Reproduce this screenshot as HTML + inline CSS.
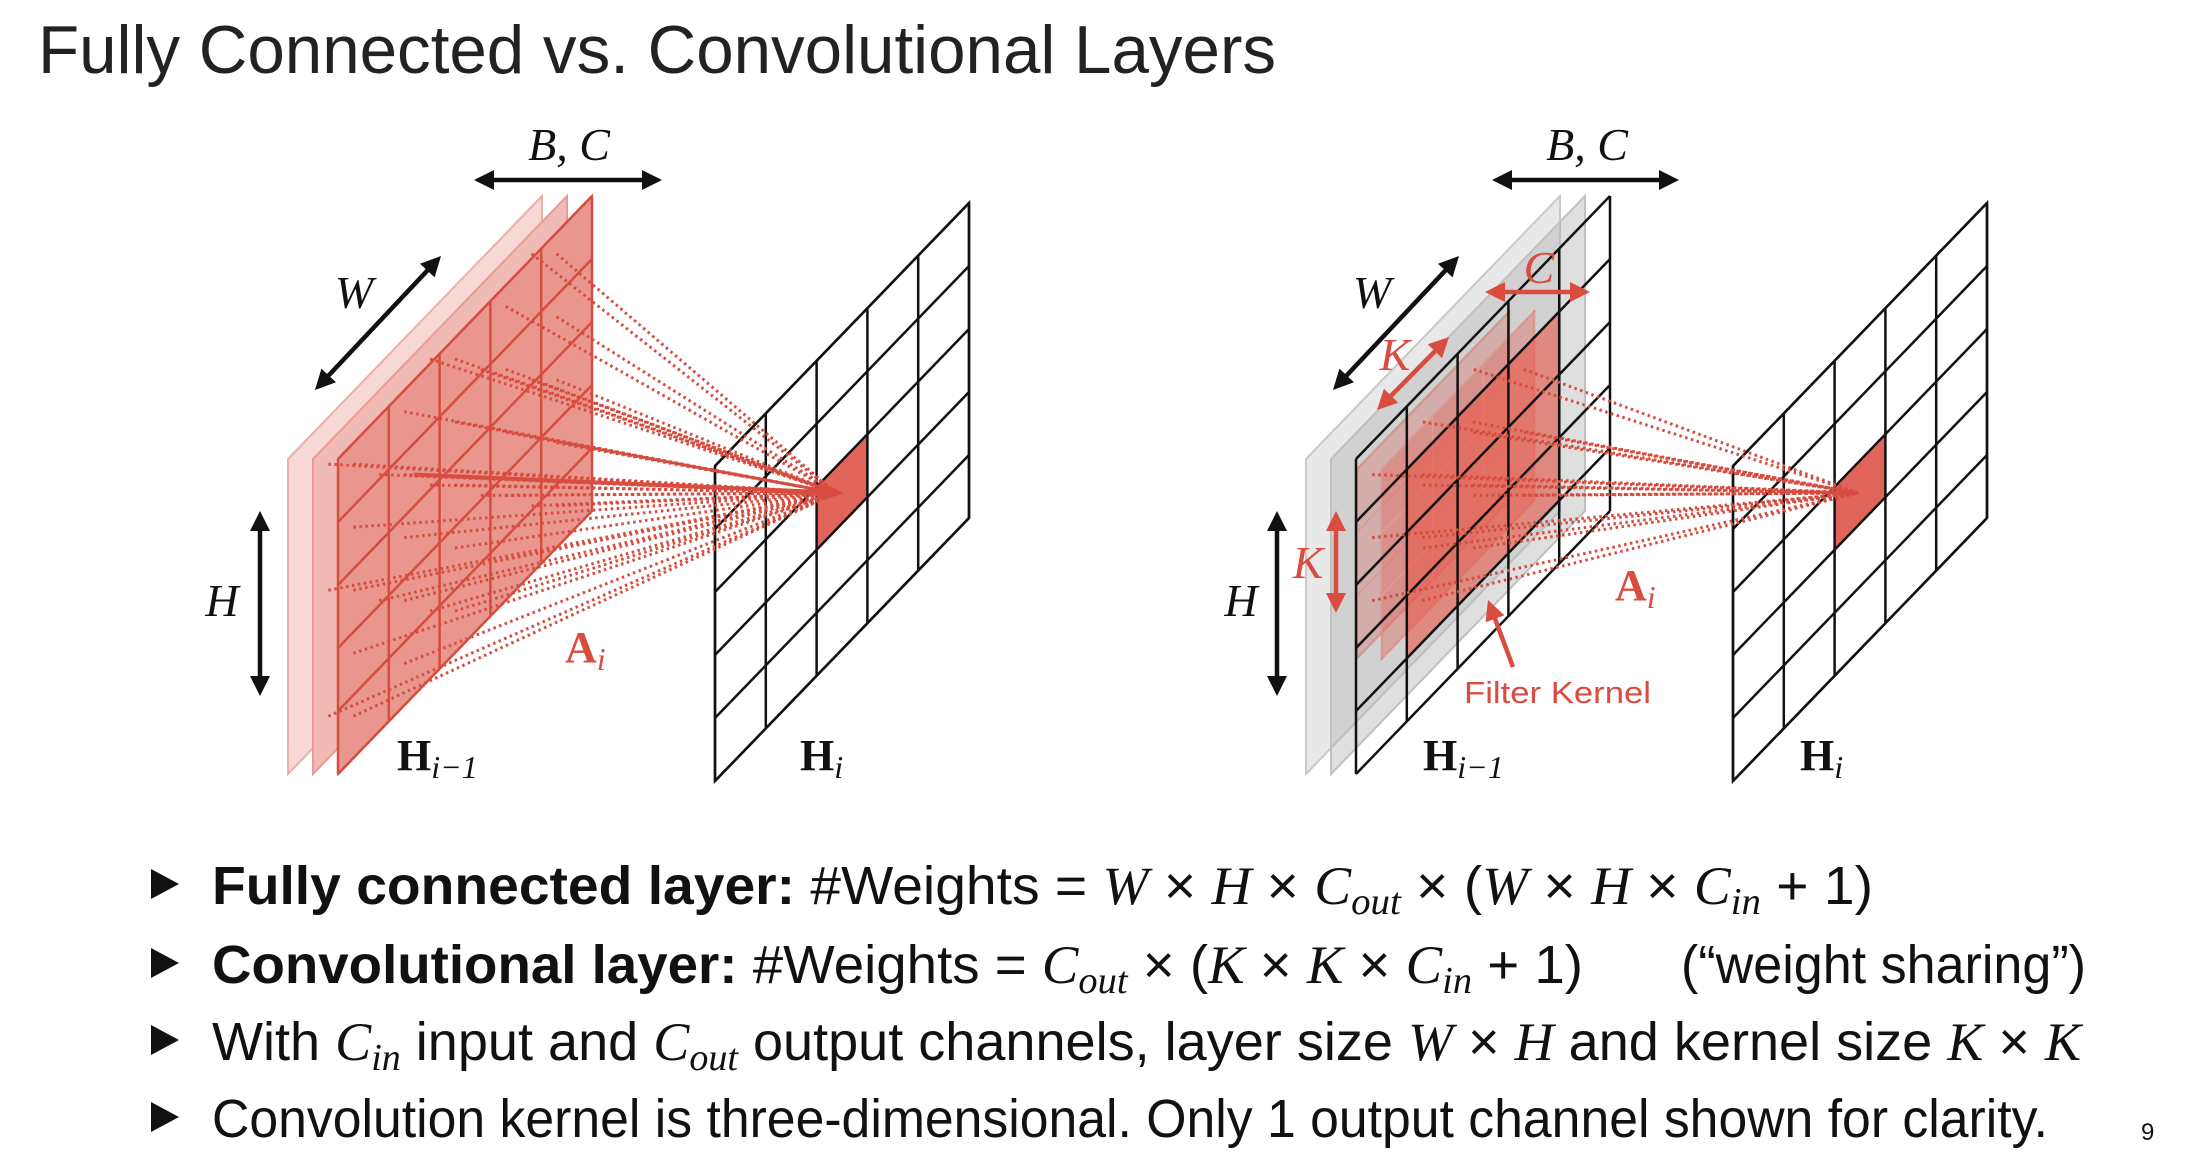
<!DOCTYPE html>
<html><head><meta charset="utf-8"><style>
html,body{margin:0;padding:0;background:#fff;}
svg{display:block;}
.s{font-family:"Liberation Sans",sans-serif;}
.m{font-family:"Liberation Serif",serif;font-style:italic;}
.r{font-family:"Liberation Serif",serif;}
</style></head><body>
<svg id="s" width="2188" height="1168" viewBox="0 0 2188 1168" xmlns="http://www.w3.org/2000/svg">
<g id="shapes"></g>
<text class="s" x="38" y="73" font-size="68" fill="#222" textLength="1238" lengthAdjust="spacingAndGlyphs">Fully Connected vs. Convolutional Layers</text>

<!-- left labels -->
<text class="m" x="569" y="160" font-size="46" text-anchor="middle" fill="#111">B, C</text>
<text class="m" x="354" y="308" font-size="46" text-anchor="middle" fill="#111">W</text>
<text class="m" x="222" y="616" font-size="46" text-anchor="middle" fill="#111">H</text>
<text class="r" x="565" y="662" font-size="44" font-weight="bold" fill="#d94c3f">A<tspan class="m" font-weight="normal" font-size="32" dy="8">i</tspan></text>
<text class="r" x="397" y="770" font-size="44" font-weight="bold" fill="#111">H<tspan class="m" font-weight="normal" font-size="32" dy="8">i−1</tspan></text>
<text class="r" x="800" y="770" font-size="44" font-weight="bold" fill="#111">H<tspan class="m" font-weight="normal" font-size="32" dy="8">i</tspan></text>

<!-- right labels -->
<text class="m" x="1587" y="160" font-size="46" text-anchor="middle" fill="#111">B, C</text>
<text class="m" x="1372" y="308" font-size="46" text-anchor="middle" fill="#111">W</text>
<text class="m" x="1539" y="283" font-size="46" text-anchor="middle" fill="#d94c3f">C</text>
<text class="m" x="1395" y="370" font-size="46" text-anchor="middle" fill="#d94c3f">K</text>
<text class="m" x="1308" y="578" font-size="46" text-anchor="middle" fill="#d94c3f">K</text>
<text class="m" x="1241" y="616" font-size="46" text-anchor="middle" fill="#111">H</text>
<text class="r" x="1615" y="600" font-size="44" font-weight="bold" fill="#d94c3f">A<tspan class="m" font-weight="normal" font-size="32" dy="8">i</tspan></text>
<text class="s" x="1464" y="703" font-size="31" fill="#d94c3f" textLength="187" lengthAdjust="spacingAndGlyphs">Filter Kernel</text>
<text class="r" x="1423" y="770" font-size="44" font-weight="bold" fill="#111">H<tspan class="m" font-weight="normal" font-size="32" dy="8">i−1</tspan></text>
<text class="r" x="1800" y="770" font-size="44" font-weight="bold" fill="#111">H<tspan class="m" font-weight="normal" font-size="32" dy="8">i</tspan></text>

<!-- bullets -->
<polygon points="151,869 179,884 151,899" fill="#111"/>
<polygon points="151,948 179,963 151,978" fill="#111"/>
<polygon points="151,1025 179,1040 151,1055" fill="#111"/>
<polygon points="151,1102 179,1117 151,1132" fill="#111"/>

<text class="s" x="212" y="904" font-size="54" fill="#111" textLength="1661" lengthAdjust="spacingAndGlyphs"><tspan font-weight="bold">Fully connected layer:</tspan> #Weights = <tspan class="m">W</tspan> × <tspan class="m">H</tspan> × <tspan class="m">C</tspan><tspan class="m" font-size="38" dy="10">out</tspan><tspan dy="-10"> × (</tspan><tspan class="m">W</tspan> × <tspan class="m">H</tspan> × <tspan class="m">C</tspan><tspan class="m" font-size="38" dy="10">in</tspan><tspan dy="-10"> + 1)</tspan></text>

<text class="s" x="212" y="983" font-size="54" fill="#111" textLength="1371" lengthAdjust="spacingAndGlyphs"><tspan font-weight="bold">Convolutional layer:</tspan> #Weights = <tspan class="m">C</tspan><tspan class="m" font-size="38" dy="10">out</tspan><tspan dy="-10"> × (</tspan><tspan class="m">K</tspan> × <tspan class="m">K</tspan> × <tspan class="m">C</tspan><tspan class="m" font-size="38" dy="10">in</tspan><tspan dy="-10"> + 1)</tspan></text>
<text class="s" x="1681" y="983" font-size="54" fill="#111" textLength="405" lengthAdjust="spacingAndGlyphs">(“weight sharing”)</text>

<text class="s" x="212" y="1060" font-size="54" fill="#111" textLength="1869" lengthAdjust="spacingAndGlyphs">With <tspan class="m">C</tspan><tspan class="m" font-size="38" dy="10">in</tspan><tspan dy="-10"> input and </tspan><tspan class="m">C</tspan><tspan class="m" font-size="38" dy="10">out</tspan><tspan dy="-10"> output channels, layer size </tspan><tspan class="m">W</tspan> × <tspan class="m">H</tspan> and kernel size <tspan class="m">K</tspan> × <tspan class="m">K</tspan></text>

<text class="s" x="212" y="1137" font-size="54" fill="#111" textLength="1836" lengthAdjust="spacingAndGlyphs">Convolution kernel is three-dimensional. Only 1 output channel shown for clarity.</text>
<text class="s" x="2141" y="1140" font-size="24" fill="#111">9</text>
</svg>
<script>
var G=document.getElementById('shapes');var NS='http://www.w3.org/2000/svg';
function el(t,a){var e=document.createElementNS(NS,t);for(var k in a)e.setAttribute(k,a[k]);G.appendChild(e);return e;}
function P(b,u,v,s,t){return [b[0]+u[0]*s+v[0]*t,b[1]+u[1]*s+v[1]*t];}
function pts(a){return a.map(function(q){return q.join(',')}).join(' ');}
function poly(b,u,v,fill,stroke,sw,op){var p=[P(b,u,v,0,0),P(b,u,v,1,0),P(b,u,v,1,1),P(b,u,v,0,1)];el('polygon',{points:pts(p),fill:fill,stroke:stroke,'stroke-width':sw,'fill-opacity':op==null?1:op});}
function grid(b,u,v,n,m,stroke,sw){for(var i=0;i<=n;i++){var a=P(b,u,v,i/n,0),c=P(b,u,v,i/n,1);el('line',{x1:a[0],y1:a[1],x2:c[0],y2:c[1],stroke:stroke,'stroke-width':sw});}
for(var j=0;j<=m;j++){var a=P(b,u,v,0,j/m),c=P(b,u,v,1,j/m);el('line',{x1:a[0],y1:a[1],x2:c[0],y2:c[1],stroke:stroke,'stroke-width':sw});}}
function head(x1,y1,x2,y2,col,L,W){var dx=x2-x1,dy=y2-y1,d=Math.hypot(dx,dy);dx/=d;dy/=d;var bx=x2-dx*L,by=y2-dy*L;el('polygon',{points:x2+','+y2+' '+(bx-dy*W)+','+(by+dx*W)+' '+(bx+dy*W)+','+(by-dx*W),fill:col});}
function arrow(x1,y1,x2,y2,col,both){var dx=x2-x1,dy=y2-y1,d=Math.hypot(dx,dy),L=20;
var sx=x1+(both?dx/d*L*0.8:0),sy=y1+(both?dy/d*L*0.8:0);el('line',{x1:sx,y1:sy,x2:x2-dx/d*L*0.8,y2:y2-dy/d*L*0.8,stroke:col,'stroke-width':4.5});
head(x1,y1,x2,y2,col,L,10);if(both)head(x2,y2,x1,y1,col,L,10);}
function dotted(x1,y1,x2,y2){el('line',{x1:x1,y1:y1,x2:x2,y2:y2,stroke:'#d64d40','stroke-width':3,'stroke-dasharray':'2.5 3.5'});}
var u=[254,-263],v=[0,-315],RED='#d94c3f';
// ---------- LEFT ----------
var bl=[[288,774],[313,774],[338,774]];
poly(bl[0],u,v,'#f8d8d4','#eab0aa',2);
poly(bl[1],u,v,'#f1bbb5','#e79b93',2);
poly(bl[2],u,v,'#e9968e','#d9554a',2);
grid(bl[2],u,v,5,5,'#d64d40',2.5);
var H1=[715,781];
poly(H1,u,v,'#fff','#111',2.5);
el('polygon',{points:pts([P(H1,u,v,.4,.4),P(H1,u,v,.6,.4),P(H1,u,v,.6,.6),P(H1,u,v,.4,.6)]),fill:'#e0645a'});
grid(H1,u,v,5,5,'#111',2.5);
var T=[836,493];
[bl[1],bl[2]].forEach(function(b,k){for(var i=0;i<5;i++)for(var j=0;j<5;j++){var c=P(b,u,v,(i+.5)/5,(j+.5)/5);if(k==0&&(i+j)%2)continue;dotted(c[0]-10,c[1],T[0],T[1]);}});
var c0=P(bl[2],u,v,.3,.7);el('line',{x1:c0[0],y1:c0[1],x2:T[0]-15,y2:T[1]-1,stroke:RED,'stroke-width':4});head(c0[0],c0[1],T[0]+8,T[1],RED,22,9);
arrow(474,180,662,180,'#111',true);
arrow(315,390,441,256,'#111',true);
arrow(260,511,260,696,'#111',true);
// ---------- RIGHT ----------
var br=[[1306,774],[1331,774],[1356,774]];
poly(br[0],u,v,'#bcbcbc','#c8c8c8',2,0.35);
poly(br[1],u,v,'#b0b0b0','#c0c0c0',2,0.4);
var ku=[u[0]*.6,u[1]*.6],kv=[v[0]*.6,v[1]*.6];
var kb=P(br[2],u,v,.2,.2);
var kbs=[[kb[0]-50,kb[1]],[kb[0]-25,kb[1]],kb];
poly(kbs[0],ku,kv,'#d8786f','#c9796f',2,0.4);grid(kbs[0],ku,kv,3,3,'#d69a93',1.5);
poly(kbs[1],ku,kv,'#dc6e63','#d07a70',2,0.45);grid(kbs[1],ku,kv,3,3,'#e09c94',1.5);
poly(kbs[2],ku,kv,'#e8584a','#e05a4e',2,0.6);grid(kbs[2],ku,kv,3,3,'#e2786d',1.5);
grid(br[2],u,v,5,5,'#111',2.5);
var H2=[1733,781];
poly(H2,u,v,'#fff','#111',2.5);
el('polygon',{points:pts([P(H2,u,v,.4,.4),P(H2,u,v,.6,.4),P(H2,u,v,.6,.6),P(H2,u,v,.4,.6)]),fill:'#e0645a'});
grid(H2,u,v,5,5,'#111',2.5);
var T2=[1858,493];
[kbs[0],kbs[2]].forEach(function(b){for(var i=0;i<3;i++)for(var j=0;j<3;j++){var c=P(b,ku,kv,(i+.5)/3,(j+.5)/3);dotted(c[0]-10,c[1],T2[0],T2[1]);}});
arrow(1492,180,1679,180,'#111',true);
arrow(1333,390,1459,256,'#111',true);
arrow(1277,511,1277,696,'#111',true);
arrow(1485,292,1590,292,RED,true);
arrow(1449,337,1377,410,RED,true);
arrow(1336,511,1336,613,RED,true);
arrow(1513,667,1488,600,RED,false);
</script>
</body></html>
